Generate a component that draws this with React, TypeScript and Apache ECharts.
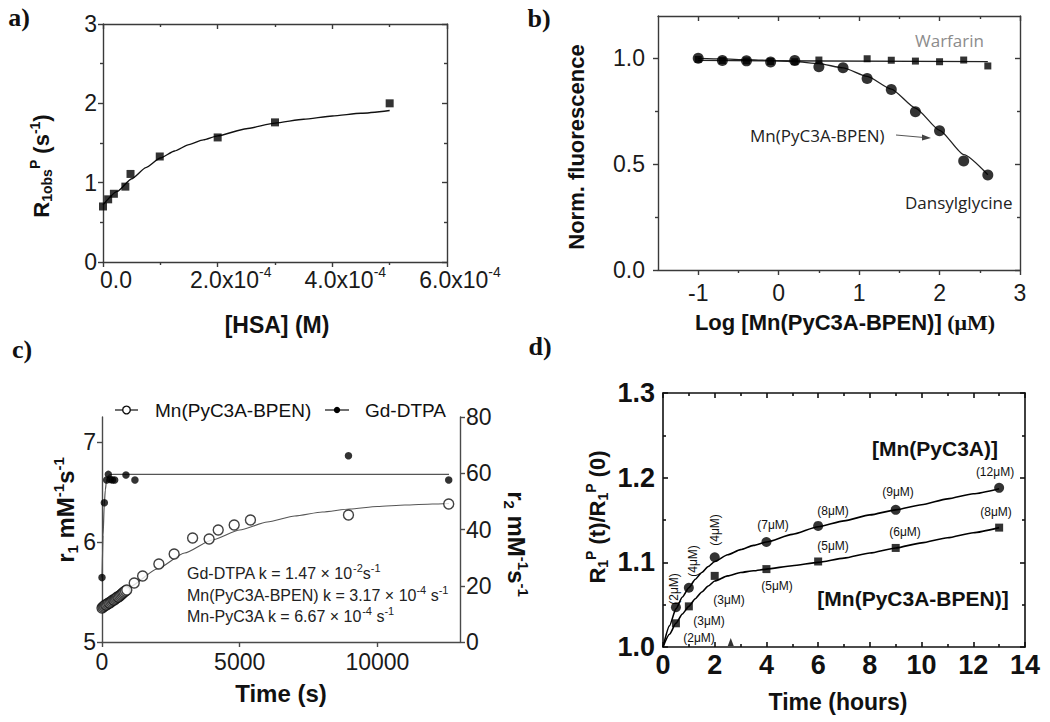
import React, { useEffect, useRef } from 'react';
import * as echarts from 'echarts';

// ---------------- Panel a : R1obs vs [HSA] ----------------
const hsaConc = [0, 0.09e-4, 0.19e-4, 0.39e-4, 0.48e-4, 0.99e-4, 2.0e-4, 3.0e-4, 5.0e-4];
const r1obs = [0.7, 0.79, 0.86, 0.95, 1.11, 1.33, 1.57, 1.76, 2.0];
const hsaFitConc = [0, 0.25e-4, 0.5e-4, 0.75e-4, 1.0e-4, 1.25e-4, 1.5e-4, 1.75e-4, 2.0e-4, 2.5e-4, 3.0e-4, 3.5e-4, 4.0e-4, 4.5e-4, 5.0e-4];
const hsaFitR1 = [0.72, 0.89, 1.05, 1.19, 1.31, 1.4, 1.48, 1.54, 1.59, 1.68, 1.75, 1.8, 1.84, 1.875, 1.91];
const aXLabelVals = [0, 2e-4, 4e-4, 6e-4];
const aXLabels = ['0.0', '2.0x10{s|-4}', '4.0x10{s|-4}', '6.0x10{s|-4}'];
const aYLabelVals = [0, 1, 2, 3];
const aYLabels = ['0', '1', '2', '3'];

// ---------------- Panel b : fluorescence displacement ----------------
const logConc = [-1, -0.7, -0.4, -0.1, 0.2, 0.5, 0.8, 1.1, 1.4, 1.7, 2.0, 2.3, 2.6];
const dansylFluo = [1.0, 0.99, 0.988, 0.983, 0.99, 0.96, 0.955, 0.905, 0.853, 0.748, 0.658, 0.515, 0.449];
const warfarinConc = [-1, -0.7, -0.4, -0.1, 0.2, 0.5, 1.1, 1.4, 1.7, 2.0, 2.3, 2.6];
const warfarinFluo = [0.995, 0.99, 0.988, 0.985, 0.984, 0.992, 0.998, 0.991, 0.987, 0.984, 0.992, 0.964];
const dansylFitConc = [-1, -0.7, -0.4, -0.1, 0.2, 0.5, 0.8, 1.1, 1.4, 1.7, 2.0, 2.3, 2.6];
const dansylFit = [1.0, 0.997, 0.994, 0.99, 0.985, 0.975, 0.955, 0.915, 0.855, 0.765, 0.66, 0.545, 0.45];
const warfarinFitConc = [-1, 2.6];
const warfarinFit = [0.99, 0.984];
const bXLabelVals = [-1, 0, 1, 2, 3];
const bXLabels = ['-1', '0', '1', '2', '3'];
const bYLabelVals = [0, 0.5, 1.0];
const bYLabels = ['0.0', '0.5', '1.0'];

// ---------------- Panel c : transmetallation kinetics ----------------
const mnTime = [0, 40, 80, 120, 160, 200, 240, 280, 320, 360, 400, 440, 480, 520, 560, 600, 640, 680, 720, 760, 800, 850, 900, 1170, 1475, 2065, 2620, 3290, 3890, 4220, 4800, 5390, 8950, 12590];
const mnR1 = [5.34, 5.35, 5.36, 5.37, 5.37, 5.38, 5.39, 5.39, 5.40, 5.41, 5.42, 5.42, 5.43, 5.44, 5.45, 5.45, 5.46, 5.47, 5.48, 5.49, 5.5, 5.51, 5.52, 5.59, 5.66, 5.78, 5.88, 6.04, 6.03, 6.12, 6.17, 6.22, 6.27, 6.38];
const mnFitTime = [0, 1000, 2000, 3000, 4000, 5000, 6000, 7000, 8000, 9000, 10000, 11000, 12000, 12600];
const mnFitR1 = [5.34, 5.55, 5.73, 5.89, 6.02, 6.12, 6.2, 6.26, 6.3, 6.33, 6.355, 6.37, 6.38, 6.385];
const gdTime = [0, 85, 170, 230, 300, 380, 460, 870, 1195, 8950, 12590];
const gdR2 = [22.9, 49.5, 57.6, 59.6, 57.8, 57.6, 57.6, 59.4, 57.6, 66.2, 57.6];
const gdFitTime = [0, 40, 80, 120, 160, 200, 240, 300, 400, 12600];
const gdFitR2 = [22.9, 38, 48.5, 54, 57, 58.5, 59.2, 59.5, 59.6, 59.6];
const cXLabelVals = [0, 5000, 10000];
const cXLabels = ['0', '5000', '10000'];
const cYLLabelVals = [5, 6, 7];
const cYLLabels = ['5', '6', '7'];
const cYRLabelVals = [0, 20, 40, 60, 80];
const cYRLabels = ['0', '20', '40', '60', '80'];

// ---------------- Panel d : relaxation vs time ----------------
const hours = [0.5, 1, 2, 4, 6, 9, 13];
const pyc3aRatio = [1.047, 1.07, 1.106, 1.124, 1.143, 1.162, 1.188];
const bpenRatio = [1.028, 1.048, 1.084, 1.092, 1.101, 1.117, 1.141];
const fitHours = [0, 0.25, 0.5, 0.75, 1, 1.25, 1.5, 1.75, 2, 2.5, 3, 3.5, 4, 5, 6, 7, 8, 9, 10, 11, 12, 13];
const pyc3aFit = [1.0, 1.025, 1.045, 1.059, 1.07, 1.08, 1.088, 1.095, 1.101, 1.109, 1.115, 1.12, 1.124, 1.133, 1.142, 1.149, 1.156, 1.162, 1.168, 1.175, 1.181, 1.187];
const bpenFit = [1.0, 1.015, 1.028, 1.039, 1.048, 1.057, 1.065, 1.072, 1.078, 1.084, 1.088, 1.09, 1.092, 1.096, 1.1, 1.105, 1.111, 1.117, 1.123, 1.129, 1.135, 1.141];
const markHour = [2.62];
const markRatio = [1.006];
const pyc3aConcLabels = ['(2μM)', '(4μM)', '(4μM)', '(7μM)', '(8μM)', '(9μM)', '(12μM)'];
const bpenConcLabels = ['(2μM)', '(3μM)', '(3μM)', '(5μM)', '(5μM)', '(6μM)', '(8μM)'];
const dXLabelVals = [0, 2, 4, 6, 8, 10, 12, 14];
const dXLabels = ['0', '2', '4', '6', '8', '10', '12', '14'];
const dYLabelVals = [1.0, 1.1, 1.2, 1.3];
const dYLabels = ['1.0', '1.1', '1.2', '1.3'];

// ---------------- helpers ----------------
const SANS = "'Liberation Sans', Arial, Helvetica, sans-serif";
const SERIF = "'Liberation Serif', 'Times New Roman', serif";
const OPEN = "'Open Sans', 'DejaVu Sans', sans-serif";

const pairs = (xs: number[], ys: number[]) => xs.map((x, i) => [x, ys[i]]);

const fmt = (vals: number[], labels: string[], eps: number) => (v: number) => {
  const i = vals.findIndex((t) => Math.abs(t - v) < eps);
  return i >= 0 ? labels[i] : '';
};

function axis(c: any) {
  const base: any = {
    type: 'value',
    gridIndex: c.grid,
    position: c.pos,
    min: c.min,
    max: c.max,
    axisLine: { show: true, onZero: false, lineStyle: { color: c.color, width: c.width } },
    axisTick: {
      show: true,
      inside: c.inside,
      length: 5,
      lineStyle: { color: c.color, width: c.width },
    },
    minorTick: { show: !!c.minor, splitNumber: c.minor || 5, length: 3, lineStyle: { color: c.color, width: c.width } },
    splitLine: { show: false },
    minorSplitLine: { show: false },
    axisLabel: { show: false },
  };
  if (c.interval) base.interval = c.interval;
  else base.splitNumber = c.splitNumber || 5;
  if (c.tickVals) base.axisTick.customValues = c.tickVals;
  if (c.labels) {
    base.axisLabel = {
      show: true,
      customValues: c.labelVals,
      formatter: fmt(c.labelVals, c.labels, (c.max - c.min) * 1e-6),
      fontSize: c.size,
      fontWeight: c.weight || 'normal',
      fontFamily: SANS,
      color: c.labelColor || '#1a1a1a',
      margin: c.margin,
      lineHeight: c.lineHeight,
      padding: c.padding || 0,
      rich: c.rich,
    };
  }
  return base;
}

function txt(x: number, y: number, text: string, o: any = {}) {
  return {
    type: 'text',
    x,
    y,
    rotation: o.rot || 0,
    silent: true,
    style: {
      text,
      fill: o.fill || '#111',
      fontSize: o.size || 16,
      fontWeight: o.weight || 'normal',
      fontFamily: o.family || SANS,
      align: o.align || 'center',
      textAlign: o.align || 'center',
      verticalAlign: 'middle',
      textVerticalAlign: 'middle',
      rich: o.rich,
    },
  };
}

function richSet(size: number, weight: string, family: string, small: number, ratio = 1.3) {
  const L = Math.round(size * ratio);
  return {
    m: { fontSize: size, fontWeight: weight, fontFamily: family, lineHeight: L },
    u: { fontSize: size, fontWeight: weight, fontFamily: SERIF, lineHeight: L },
    sup: { fontSize: small, fontWeight: weight, fontFamily: family, lineHeight: small, verticalAlign: 'top' },
    sub: { fontSize: small, fontWeight: weight, fontFamily: family, lineHeight: small, verticalAlign: 'bottom' },
  };
}

function buildOption() {
  const A = '#3a3a3a';
  const C = '#4a4a4a';
  const D = '#111';

  const xAxis = [
    // a
    axis({ grid: 0, pos: 'bottom', min: 0, max: 6e-4, interval: 2e-4, minor: 2, inside: false, color: A, width: 1.4,
      tickVals: aXLabelVals, labelVals: aXLabelVals, labels: aXLabels, size: 23, margin: 3, lineHeight: 30,
      padding: [0, 0, 0, 26], rich: { s: { fontSize: 14, lineHeight: 14, verticalAlign: 'top', color: '#1a1a1a', fontFamily: SANS } } }),
    axis({ grid: 0, pos: 'top', min: 0, max: 6e-4, interval: 2e-4, minor: 2, inside: true, color: A, width: 1.4, tickVals: aXLabelVals }),
    // b
    axis({ grid: 1, pos: 'bottom', min: -1.5, max: 3, splitNumber: 5, minor: 2, inside: false, color: A, width: 1.4,
      tickVals: bXLabelVals, labelVals: bXLabelVals, labels: bXLabels, size: 23, margin: 10, lineHeight: 26 }),
    axis({ grid: 1, pos: 'top', min: -1.5, max: 3, splitNumber: 5, minor: 2, inside: true, color: A, width: 1.4, tickVals: bXLabelVals }),
    // c
    axis({ grid: 2, pos: 'bottom', min: 0, max: 13000, interval: 5000, inside: false, color: C, width: 1.4,
      tickVals: cXLabelVals, labelVals: cXLabelVals, labels: cXLabels, size: 23, margin: 7, lineHeight: 26 }),
    // d
    axis({ grid: 3, pos: 'bottom', min: 0, max: 14, interval: 2, minor: 2, inside: true, color: D, width: 1.6,
      tickVals: dXLabelVals, labelVals: dXLabelVals, labels: dXLabels, size: 27, weight: 'bold', margin: 4, lineHeight: 28, labelColor: '#111' }),
    axis({ grid: 3, pos: 'top', min: 0, max: 14, interval: 2, minor: 2, inside: true, color: D, width: 1.6, tickVals: dXLabelVals }),
  ];

  const yAxis = [
    // a
    axis({ grid: 0, pos: 'left', min: 0, max: 3, interval: 1, minor: 2, inside: false, color: A, width: 1.4,
      tickVals: aYLabelVals, labelVals: aYLabelVals, labels: aYLabels, size: 23, margin: 6 }),
    axis({ grid: 0, pos: 'right', min: 0, max: 3, interval: 1, minor: 2, inside: true, color: A, width: 1.4, tickVals: aYLabelVals }),
    // b
    axis({ grid: 1, pos: 'left', min: 0, max: 1.2, interval: 0.5, minor: 2, inside: false, color: A, width: 1.4,
      tickVals: bYLabelVals, labelVals: bYLabelVals, labels: bYLabels, size: 23, margin: 13 }),
    axis({ grid: 1, pos: 'right', min: 0, max: 1.2, interval: 0.5, minor: 2, inside: true, color: A, width: 1.4, tickVals: bYLabelVals }),
    // c
    axis({ grid: 2, pos: 'left', min: 5, max: 7.25, interval: 1, inside: false, color: C, width: 1.4,
      tickVals: cYLLabelVals, labelVals: cYLLabelVals, labels: cYLLabels, size: 23, margin: 6 }),
    axis({ grid: 2, pos: 'right', min: 0, max: 80, interval: 20, inside: false, color: C, width: 1.4,
      tickVals: cYRLabelVals, labelVals: cYRLabelVals, labels: cYRLabels, size: 23, margin: 6 }),
    // d
    axis({ grid: 3, pos: 'left', min: 1.0, max: 1.3, interval: 0.1, minor: 2, inside: true, color: D, width: 1.6,
      tickVals: dYLabelVals, labelVals: dYLabelVals, labels: dYLabels, size: 27, weight: 'bold', margin: 8, labelColor: '#111' }),
    axis({ grid: 3, pos: 'right', min: 1.0, max: 1.3, interval: 0.1, minor: 2, inside: true, color: D, width: 1.6, tickVals: dYLabelVals }),
  ];

  const fitLine = (name: string, xi: number, yi: number, data: any, color: string, width: number) => ({
    type: 'line', name, xAxisIndex: xi, yAxisIndex: yi, data, smooth: 0.2, smoothMonotone: 'x',
    showSymbol: false, symbol: 'none', lineStyle: { color, width }, z: 2, silent: true,
  });
  const dots = (name: string, xi: number, yi: number, data: any, symbol: string, size: any, itemStyle: any) => ({
    type: 'scatter', name, xAxisIndex: xi, yAxisIndex: yi, data, symbol, symbolSize: size, itemStyle, z: 3, clip: false, silent: true,
  });

  const series = [
    // a
    fitLine('aFit', 0, 0, pairs(hsaFitConc, hsaFitR1), '#111', 1.4),
    dots('aData', 0, 0, pairs(hsaConc, r1obs), 'rect', 8, { color: '#000' }),
    // b
    fitLine('bDansylFit', 2, 2, pairs(dansylFitConc, dansylFit), '#222', 1.3),
    fitLine('bWarfFit', 2, 2, pairs(warfarinFitConc, warfarinFit), '#222', 1.3),
    dots('Warfarin', 2, 2, pairs(warfarinConc, warfarinFluo), 'rect', 7, { color: '#000' }),
    dots('Dansylglycine', 2, 2, pairs(logConc, dansylFluo), 'circle', 11, { color: '#000' }),
    // c
    fitLine('cMnFit', 4, 4, pairs(mnFitTime, mnFitR1), '#555', 1.2),
    fitLine('cGdFit', 4, 5, pairs(gdFitTime, gdFitR2), '#555', 1.2),
    dots('Mn(PyC3A-BPEN)', 4, 4, pairs(mnTime, mnR1), 'circle', 10, { color: '#fff', borderColor: '#111', borderWidth: 1.4 }),
    dots('Gd-DTPA', 4, 5, pairs(gdTime, gdR2), 'circle', 7.5, { color: '#000' }),
    // d
    fitLine('dPyc3aFit', 5, 6, pairs(fitHours, pyc3aFit), '#000', 1.6),
    fitLine('dBpenFit', 5, 6, pairs(fitHours, bpenFit), '#000', 1.6),
    dots('[Mn(PyC3A)]', 5, 6, pairs(hours, pyc3aRatio), 'circle', 10, { color: '#000' }),
    dots('[Mn(PyC3A-BPEN)]', 5, 6, pairs(hours, bpenRatio), 'rect', 8, { color: '#000' }),
    dots('dMark', 5, 6, pairs(markHour, markRatio), 'triangle', [6, 8], { color: '#000' }),
  ];

  const ax22 = richSet(22, 'bold', SANS, 14, 1.2);
  const ax24 = richSet(24, 'bold', SANS, 15, 1.2);
  const kRich = richSet(16, 'normal', SANS, 11, 1.3);

  const pyc3aLabelPos = [[674, 589, 1], [693, 561, 1], [715, 530, 1], [773, 525, 0], [833, 511, 0], [898, 492, 0], [995, 472, 0]];
  const bpenLabelPos = [[699, 638], [709, 621], [729, 600], [777, 586], [833, 546], [905, 532], [996, 512]];

  const graphic: any[] = [
    // panel letters
    txt(19, 17, 'a)', { size: 26, weight: 'bold', family: SERIF }),
    txt(539, 18, 'b)', { size: 26, weight: 'bold', family: SERIF }),
    txt(22, 349, 'c)', { size: 26, weight: 'bold', family: SERIF }),
    txt(540, 346, 'd)', { size: 26, weight: 'bold', family: SERIF }),
    // a titles
    txt(41, 166, '{m|R}{sub|1obs}{sup|P}{m| (s}{sup|-1}{m|)}', { rot: Math.PI / 2, rich: ax22, size: 22, weight: 'bold' }),
    txt(277, 325, '[HSA] (M)', { size: 23, weight: 'bold' }),
    // b titles & annotations
    txt(576, 147, 'Norm. fluorescence', { rot: Math.PI / 2, size: 22, weight: 'bold' }),
    txt(845, 322, '{m|Log [Mn(PyC3A-BPEN)]}{u| (μM)}', { rich: ax22, size: 22, weight: 'bold' }),
    txt(915, 40, 'Warfarin', { align: 'left', size: 17, family: OPEN, fill: '#8c8c8c' }),
    txt(750, 135, 'Mn(PyC3A-BPEN)', { align: 'left', size: 17, family: OPEN, fill: '#222' }),
    txt(905, 202, 'Dansylglycine', { align: 'left', size: 17, family: OPEN, fill: '#222' }),
    { type: 'line', silent: true, shape: { x1: 896, y1: 135, x2: 924, y2: 137.5 }, style: { stroke: '#555', lineWidth: 1 } },
    { type: 'polygon', silent: true, shape: { points: [[931, 138], [922, 134.6], [922, 140.6]] }, style: { fill: '#444' } },
    // c titles & legend & text
    txt(65, 510, '{m|r}{sub|1}{m| mM}{sup|-1}{m|s}{sup|-1}', { rot: Math.PI / 2, rich: ax24, size: 24, weight: 'bold' }),
    txt(516, 544, '{m|r}{sub|2}{m| mM}{sup|-1}{m|s}{sup|-1}', { rot: -Math.PI / 2, rich: ax24, size: 24, weight: 'bold' }),
    txt(281, 693, 'Time (s)', { size: 24, weight: 'bold' }),
    { type: 'line', silent: true, shape: { x1: 115, y1: 410, x2: 138, y2: 410 }, style: { stroke: '#222', lineWidth: 1.3 } },
    { type: 'circle', silent: true, shape: { cx: 126.5, cy: 410, r: 3.8 }, style: { fill: '#fff', stroke: '#111', lineWidth: 1.4 } },
    txt(155, 410, 'Mn(PyC3A-BPEN)', { align: 'left', size: 19 }),
    { type: 'line', silent: true, shape: { x1: 325, y1: 410, x2: 349, y2: 410 }, style: { stroke: '#222', lineWidth: 1.3 } },
    { type: 'circle', silent: true, shape: { cx: 337, cy: 410, r: 3.2 }, style: { fill: '#000' } },
    txt(365, 410, 'Gd-DTPA', { align: 'left', size: 19 }),
    txt(187, 573, '{m|Gd-DTPA k = 1.47 × 10}{sup|-2}{m|s}{sup|-1}', { align: 'left', rich: kRich, size: 16, fill: '#222' }),
    txt(187, 595, '{m|Mn(PyC3A-BPEN) k = 3.17 × 10}{sup|-4}{m| s}{sup|-1}', { align: 'left', rich: kRich, size: 16, fill: '#222' }),
    txt(187, 616, '{m|Mn-PyC3A k = 6.67 × 10}{sup|-4}{m| s}{sup|-1}', { align: 'left', rich: kRich, size: 16, fill: '#222' }),
    // d titles & labels
    txt(597, 517, '{m|R}{sub|1}{sup|P}{m| (t)/R}{sub|1}{sup|P}{m| (0)}', { rot: Math.PI / 2, rich: ax22, size: 22, weight: 'bold' }),
    txt(838, 702, 'Time (hours)', { size: 23, weight: 'bold' }),
    txt(935, 448, '[Mn(PyC3A)]', { size: 21, weight: 'bold' }),
    txt(913, 598, '[Mn(PyC3A-BPEN)]', { size: 21, weight: 'bold' }),
  ];
  pyc3aConcLabels.forEach((t, i) => {
    const p = pyc3aLabelPos[i];
    graphic.push(txt(p[0], p[1], t, { size: 12, rot: p[2] ? Math.PI / 2 : 0, fill: '#111' }));
  });
  bpenConcLabels.forEach((t, i) => {
    const p = bpenLabelPos[i];
    graphic.push(txt(p[0], p[1], t, { size: 12, fill: '#111' }));
  });

  return {
    animation: false,
    backgroundColor: '#fff',
    grid: [
      { left: 103, top: 24, width: 344, height: 238, containLabel: false, outerBoundsMode: 'none' },
      { left: 658, top: 16, width: 362, height: 254, containLabel: false, outerBoundsMode: 'none' },
      { left: 102, top: 417, width: 358, height: 225, containLabel: false, outerBoundsMode: 'none' },
      { left: 663, top: 393, width: 362, height: 254, containLabel: false, outerBoundsMode: 'none' },
    ],
    xAxis,
    yAxis,
    series,
    graphic: { elements: graphic },
  };
}

export default function App() {
  const ref = useRef<HTMLDivElement>(null);
  useEffect(() => {
    const chart = echarts.init(ref.current as HTMLDivElement, null, { renderer: 'svg' });
    chart.setOption(buildOption() as any);
    return () => chart.dispose();
  }, []);
  return (
    <div
      ref={ref}
      style={{ position: 'absolute', left: 0, top: 0, width: 1050, height: 722, background: '#fff' }}
    />
  );
}
